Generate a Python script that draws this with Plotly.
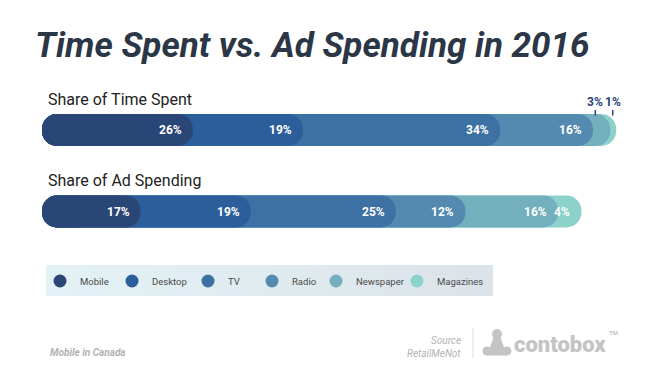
import plotly.graph_objects as go
import numpy as np

# ---------------- data ----------------
channels = ["Mobile", "Desktop", "TV", "Radio", "Newspaper", "Magazines"]
time_spent = [26, 19, 34, 16, 3, 1]
ad_spending = [17, 19, 25, 12, 16, 4]
rows = ["Share of Ad Spending", "Share of Time Spent"]
colors = ["#2a4676", "#2c5e9b", "#3d70a3", "#5489b0", "#73afbd", "#8cd1ca"]

# layout (pixel) positions
W, H = 658, 374
X0, SLOPE = 42.0, 5.8           # px of 0 %, px per percent
ROW_GAP = 81.5                   # px between row centres
TIME_Y, AD_Y = 130.0, 211.5      # px centres of the rows
legend_circle_px = [65, 137, 213, 277, 341, 422]


def px(x):
    return x / W


def py(y):
    return 1 - y / H


series = {rows[0]: ad_spending, rows[1]: time_spent}
cums = {r: np.cumsum(v) for r, v in series.items()}

fig = go.Figure()

# overlaid pill bars, last segment first (behind)
for i in reversed(range(len(channels))):
    fig.add_trace(go.Bar(
        orientation="h", y=rows, x=[cums[r][i] for r in rows], base=0,
        width=0.39, marker=dict(color=colors[i], cornerradius=16, line=dict(width=0)),
        showlegend=False, hoverinfo="skip"))
# rounded left cap of the first segment
fig.add_trace(go.Bar(
    orientation="h", y=rows, x=[-series[r][0] / 2 for r in rows],
    base=[series[r][0] / 2 for r in rows], width=0.39,
    marker=dict(color=colors[0], cornerradius=16, line=dict(width=0)),
    showlegend=False, hoverinfo="skip"))

# legend entries (circles), one legend box per entry
legend_layouts = {}
for k, (ch, c) in enumerate(zip(channels, colors)):
    lname = "legend" if k == 0 else f"legend{k + 1}"
    fig.add_trace(go.Scatter(x=[None], y=[None], mode="markers", name=ch,
                             marker=dict(color=c, size=13), legend=lname))
    legend_layouts[lname] = dict(
        orientation="h", x=px(legend_circle_px[k] - 25), y=py(281),
        xanchor="left", yanchor="middle", bgcolor="rgba(0,0,0,0)",
        font=dict(family="Roboto", size=9.5, color="#4a4a4a"), itemwidth=30)

annotations = []
# segment labels
for r in rows:
    vals = series[r]
    cum = cums[r]
    for i, v in enumerate(vals):
        if v >= 4:
            annotations.append(dict(
                x=cum[i], y=r, xref="x", yref="y", text=f"{v}%", showarrow=False,
                xanchor="right", xshift=-9, yanchor="middle",
                font=dict(family="Roboto", size=12, color="white", weight="bold")))
        else:
            annotations.append(dict(
                x=cum[i] - v + 0.4, y=r, xref="x", yref="y", text=f"{v}%",
                showarrow=True, arrowhead=0, arrowwidth=1.5, arrowcolor="#2a4676",
                ax=0, ay=-14, yshift=14.5, borderpad=1,
                font=dict(family="Roboto", size=12, color="#2a4676", weight="bold")))
    annotations.append(dict(
        x=0, y=r, xref="x", yref="y", text=r, showarrow=False, xanchor="left",
        xshift=4, yanchor="middle", yshift=31,
        font=dict(family="Roboto", size=16, color="#222222")))

# title
annotations.append(dict(
    x=px(33), y=py(23), xref="paper", yref="paper", xanchor="left", yanchor="top",
    text="<i>Time Spent vs. Ad Spending in 2016</i>", showarrow=False,
    font=dict(family="Roboto", size=35, color="#2b3646", weight="bold")))

# footer
annotations += [
    dict(x=px(48), y=py(352), xref="paper", yref="paper", xanchor="left", yanchor="middle",
         text="<i>Mobile in Canada</i>", showarrow=False,
         font=dict(family="Roboto", size=10, color="#b3b3b3", weight="bold")),
    dict(x=px(463), y=py(340), xref="paper", yref="paper", xanchor="right", yanchor="middle",
         text="<i>Source</i>", showarrow=False,
         font=dict(family="Roboto", size=10, color="#b3b3b3")),
    dict(x=px(463), y=py(353), xref="paper", yref="paper", xanchor="right", yanchor="middle",
         text="<i>RetailMeNot</i>", showarrow=False,
         font=dict(family="Roboto", size=10, color="#b3b3b3")),
    dict(x=px(512), y=py(344), xref="paper", yref="paper", xanchor="left", yanchor="middle",
         text="contobox", showarrow=False,
         font=dict(family="Roboto", size=22, color="#c4c4c4", weight=900)),
    dict(x=px(607), y=py(332), xref="paper", yref="paper", xanchor="left", yanchor="middle",
         text="TM", showarrow=False,
         font=dict(family="Roboto", size=6, color="#c4c4c4", weight="bold")),
]

shapes = []
# legend gradient background
n = 40
c1 = np.array([227, 242, 246])
c2 = np.array([220, 227, 233])
lx0, lx1 = 46, 493
for k in range(n):
    t = k / (n - 1)
    c = (c1 * (1 - t) + c2 * t).round().astype(int)
    shapes.append(dict(type="rect", xref="paper", yref="paper",
                       x0=px(lx0 + (lx1 - lx0) * k / n),
                       x1=px(min(lx1, lx0 + (lx1 - lx0) * (k + 1) / n + 0.5)),
                       y0=py(296), y1=py(265), line=dict(width=0),
                       fillcolor=f"rgb({c[0]},{c[1]},{c[2]})", layer="below"))
# footer divider
shapes.append(dict(type="line", xref="paper", yref="paper", x0=px(473), x1=px(473),
                   y0=py(328), y1=py(358), line=dict(color="#dddddd", width=1)))
# logo icon
grey = "#c4c4c4"
for cx, cy, r in [(497, 334, 5), (487, 351, 4.5), (507, 351, 4.5)]:
    shapes.append(dict(type="circle", xref="paper", yref="paper",
                       x0=px(cx - r), x1=px(cx + r), y0=py(cy + r), y1=py(cy - r),
                       fillcolor=grey, line=dict(width=0)))
shapes.append(dict(type="path", xref="paper", yref="paper",
                   path=f"M {px(494)} {py(336)} L {px(500)} {py(336)} L {px(507)} {py(355.5)} L {px(487)} {py(355.5)} Z",
                   fillcolor=grey, line=dict(width=0)))

y_low = -(H - AD_Y) / ROW_GAP
y_high = 1 + TIME_Y / ROW_GAP

fig.update_layout(
    template="none",
    width=W, height=H, margin=dict(l=0, r=0, t=0, b=0),
    paper_bgcolor="white", plot_bgcolor="white",
    barmode="overlay",
    xaxis=dict(visible=False, range=[-X0 / SLOPE, (W - X0) / SLOPE], fixedrange=True),
    yaxis=dict(visible=False, type="category", categoryorder="array", categoryarray=rows,
               range=[y_low, y_high], fixedrange=True),
    showlegend=True,
    annotations=annotations,
    shapes=shapes,
    font=dict(family="Roboto"),
    **legend_layouts,
)

fig.write_html("out.html", config={"displayModeBar": False},
               post_script="document.body.style.margin='0';")
